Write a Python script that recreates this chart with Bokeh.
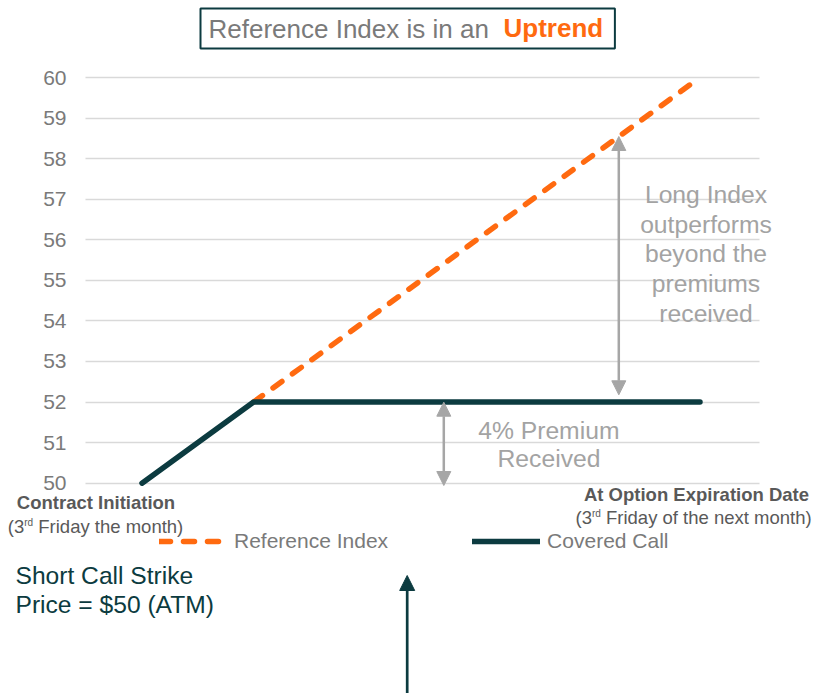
from bokeh.plotting import figure
from bokeh.models import (Range1d, FixedTicker, Label, Arrow, NormalHead,
                          Legend, LegendItem, LinearAxis)
from bokeh.embed import file_html
from bokeh.resources import INLINE

# ---- data ----
steps = [0, 1, 2, 3, 4, 5]
covered_call = [50, 52, 52, 52, 52, 52]
ref_steps = [1, 2, 3, 4, 5]
reference_index = [52, 54, 56, 58, 60]
y_ticks = [50, 51, 52, 53, 54, 55, 56, 57, 58, 59, 60]

# ---- style ----
ORANGE = "#FF6A10"
DARK = "#0C3B40"
GRAY_TXT = "#7A7A7A"
BOLD_TXT = "#595959"
NOTE = "#A3A3A3"
FONT = "Liberation Sans"

W, H = 818, 693
X0, STEP = 141.5, 111.6                    # px of x=0, px per step
Y50, UNIT = 482.7, 40.57                   # px of y=50, px per unit
GRID_L, GRID_R = 85, 759


def X(px):
    return (px - X0) / STEP


def Y(py):
    return 50 + (Y50 - py) / UNIT


p = figure(width=W, height=H,
           x_range=Range1d(X(0), X(W)),
           y_range=Range1d(Y(H), Y(0)),
           output_backend="svg", toolbar_location=None,
           x_axis_location=None, y_axis_location=None,
           min_border=0, outline_line_color=None,
           background_fill_color="white", border_fill_color="white")

yax = LinearAxis(fixed_location=X(GRID_L), ticker=FixedTicker(ticks=y_ticks))
yax.axis_line_color = None
yax.major_tick_line_color = None
yax.minor_tick_line_color = None
yax.major_tick_out = 0
yax.major_tick_in = 0
yax.major_label_standoff = 19
yax.major_label_text_font = FONT
yax.major_label_text_font_size = "21px"
yax.major_label_text_color = GRAY_TXT
p.add_layout(yax, "left")

p.xgrid.visible = False
p.ygrid.visible = False
grid_done = False
try:
    p.ygrid.cross_bounds = (X(GRID_L), X(GRID_R))
    p.ygrid.ticker = FixedTicker(ticks=y_ticks)
    p.ygrid.grid_line_color = "#D9D9D9"
    p.ygrid.grid_line_width = 1.5
    p.ygrid.visible = True
    grid_done = True
except Exception:
    grid_done = False
if not grid_done:
    p.segment(x0=[X(GRID_L)] * len(y_ticks), x1=[X(GRID_R)] * len(y_ticks),
              y0=y_ticks, y1=y_ticks, line_color="#D9D9D9", line_width=1.5,
              level="underlay")

ri = p.line(ref_steps, reference_index, line_color=ORANGE, line_width=5.5,
            line_dash="11 13", line_cap="round")
cc = p.line(steps, covered_call, line_color=DARK, line_width=5.5,
            line_cap="round", line_join="round")

legend = Legend(items=[LegendItem(label="Reference Index", renderers=[ri]),
                       LegendItem(label="Covered Call", renderers=[cc])],
                orientation="horizontal", location=(159, H - 553),
                glyph_width=68, glyph_height=20, label_height=20,
                label_standoff=7, spacing=84, padding=0, margin=0,
                border_line_color=None, background_fill_alpha=0,
                label_text_font=FONT, label_text_font_size="21px",
                label_text_color=GRAY_TXT)
p.add_layout(legend)

# gray double arrows
GRAY_AR = "#A6A6A6"
for (ax_px, top_py, bot_py) in [(618.3, 136.0, 394.3), (443.3, 401.7, 485.0)]:
    p.add_layout(Arrow(start=NormalHead(size=14, fill_color=GRAY_AR, line_color=GRAY_AR),
                       end=NormalHead(size=14, fill_color=GRAY_AR, line_color=GRAY_AR),
                       x_start=X(ax_px), y_start=Y(bot_py),
                       x_end=X(ax_px), y_end=Y(top_py),
                       line_color=GRAY_AR, line_width=2.5))

# dark pointer arrow
p.add_layout(Arrow(end=NormalHead(size=15, fill_color=DARK, line_color=DARK),
                   start=None,
                   x_start=X(406.7), y_start=Y(700), x_end=X(406.7), y_end=Y(575),
                   line_color=DARK, line_width=2.7))


def lab(text, px, py, size, color, bold=False, align="left", baseline="alphabetic", **kw):
    if baseline == "alphabetic":
        py = py - 0.37 * size      # empirical baseline correction
    p.add_layout(Label(x=X(px), y=Y(py), text=text, text_font=FONT,
                       text_font_size=f"{size}px", text_color=color,
                       text_font_style="bold" if bold else "normal",
                       text_align=align, text_baseline=baseline, **kw))


# title box
lab("Reference Index is in an", 200, 28.0, 26, GRAY_TXT, baseline="middle",
    border_line_color=DARK, border_line_width=2,
    background_fill_color="white", padding=(8, 126, 5, 5))
lab("Uptrend", 503, 27.5, 26, ORANGE, bold=True, baseline="middle")

# notes
for t, b in zip(["Long Index", "outperforms", "beyond the", "premiums", "received"],
                [203.3, 232.9, 262.5, 292.1, 321.7]):
    lab(t, 705.5, b, 24.7, NOTE, align="center")
lab("4% Premium", 548.3, 439.0, 24.7, NOTE, align="center")
lab("Received", 548.5, 467.3, 24.7, NOTE, align="center")

# x endpoints
lab("Contract Initiation", 95.5, 509.3, 18.5, BOLD_TXT, bold=True, align="center")
lab("(3", 7.3, 533.3, 18.5, BOLD_TXT)
lab("rd", 23.75, 525.5, 10, BOLD_TXT)
lab("Friday the month)", 37.8, 533.3, 18.5, BOLD_TXT)

lab("At Option Expiration Date", 696, 500.7, 18.5, BOLD_TXT, bold=True, align="center")
lab("(3", 575, 524, 18.5, BOLD_TXT)
lab("rd", 591.45, 516.5, 10, BOLD_TXT)
lab("Friday of the next month)", 605.5, 524, 18.5, BOLD_TXT)

# strike note
lab("Short Call Strike", 15, 584.3, 24.6, DARK)
lab("Price = $50 (ATM)", 15, 613.3, 24.6, DARK)

open("out.html", "w").write(file_html(p, INLINE))
